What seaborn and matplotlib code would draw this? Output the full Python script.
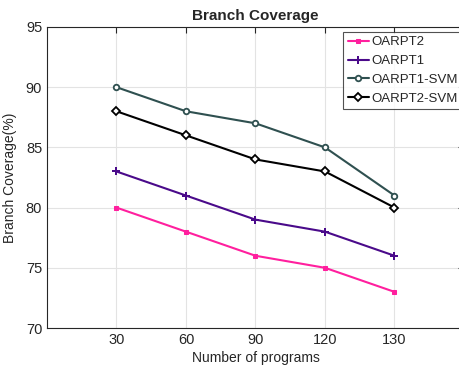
import matplotlib
matplotlib.use("Agg")
import matplotlib.pyplot as plt
import seaborn as sns
import pandas as pd

programs = ["30", "60", "90", "120", "130"]
oarpt2 = [80, 78, 76, 75, 73]
oarpt1 = [83, 81, 79, 78, 76]
oarpt1_svm = [90, 88, 87, 85, 81]
oarpt2_svm = [88, 86, 84, 83, 80]

series = {
    "OARPT2": oarpt2,
    "OARPT1": oarpt1,
    "OARPT1-SVM": oarpt1_svm,
    "OARPT2-SVM": oarpt2_svm,
}
names = list(series)
colors = {
    "OARPT2": "#ff1f9e",
    "OARPT1": "#4a0a8a",
    "OARPT1-SVM": "#2f5050",
    "OARPT2-SVM": "#000000",
}
markers = {"OARPT2": "s", "OARPT1": "P", "OARPT1-SVM": "o", "OARPT2-SVM": "D"}

df = pd.DataFrame(
    [(name, p, v) for name, vals in series.items() for p, v in zip(programs, vals)],
    columns=["method", "programs", "coverage"],
)

sns.set_style("white")
plt.rcParams["font.family"] = ["Liberation Sans", "DejaVu Sans"]

fig = plt.figure(figsize=(4.6, 3.71), dpi=100)
ax = fig.add_axes([47 / 460, 43 / 371, 417 / 460, 301 / 371])

sns.lineplot(data=df, x="programs", y="coverage", hue="method", style="method",
             hue_order=names, style_order=names,
             palette=colors, markers=markers, dashes=False, linewidth=1.5,
             markersize=5, ax=ax, sort=False, legend=False)

lines = ax.get_lines()[:len(names)]
for name, line in zip(names, lines):
    line.set_label(name)
    line.set_markeredgecolor(colors[name])
    if name.endswith("SVM"):
        line.set_markerfacecolor("white")
        line.set_markeredgewidth(1.3)
        line.set_markersize(4)
    elif name == "OARPT1":
        line.set_markersize(5.5)
        line.set_markeredgewidth(0)
    else:
        line.set_markersize(3.5)

ax.set_xlim(-1, 5)
ax.set_ylim(70, 95)
ax.set_yticks([70, 75, 80, 85, 90, 95])
ax.grid(True, color="#e3e3e3", linewidth=0.8)
ax.set_axisbelow(True)
for s in ax.spines.values():
    s.set_color("#262626")
    s.set_linewidth(0.8)
ax.tick_params(direction="in", length=4, colors="#262626", labelsize=10.5,
               top=True, right=True)
ax.set_title("Branch Coverage", fontsize=11, fontweight="bold", pad=5)
ax.set_xlabel("Number of programs", fontsize=10, color="#262626", labelpad=3)
ax.set_ylabel("Branch Coverage(%)", fontsize=10, color="#262626", labelpad=6)

leg = ax.legend(lines, names, loc="upper left", bbox_to_anchor=(0.71, 0.985),
                fontsize=9.5, frameon=True, fancybox=False, borderpad=0.35,
                labelspacing=0.5, handlelength=1.6, handletextpad=0.2,
                borderaxespad=0)
leg.get_frame().set_edgecolor("#262626")
leg.get_frame().set_linewidth(0.8)

fig.savefig("out.png", dpi=100)
